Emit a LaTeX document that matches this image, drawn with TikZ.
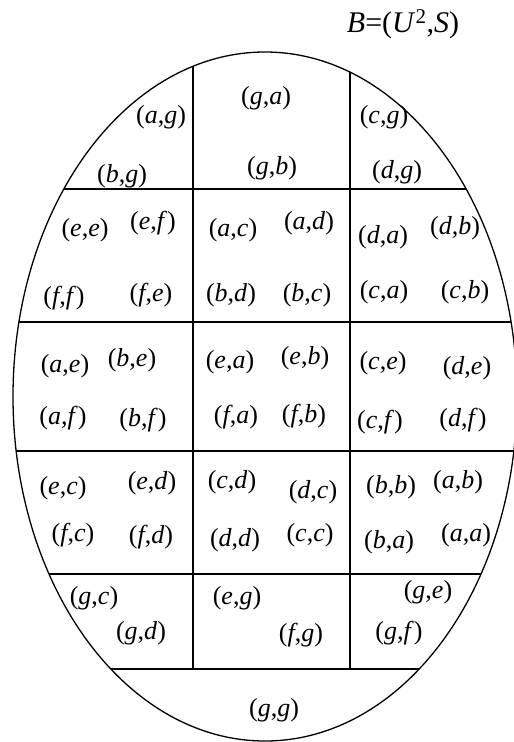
\documentclass[tikz,border=0pt]{standalone}
\usepackage{fontspec}
\setmainfont{Liberation Serif}

\newcommand{\pair}[2]{(\textit{#1},\textit{#2})}

\begin{document}
\begin{tikzpicture}[
    x=1pt, y=-1pt,
    font=\fontsize{26}{30}\selectfont,
    pair/.style={inner sep=0pt},
    rim/.style={line width=1.3pt},
    wall/.style={line width=1.6pt}
  ]
    \useasboundingbox (0,0) rectangle (514,742);
    \node[font=\fontsize{30}{34}\selectfont] (title) at (403,24)
      {\textit{B}=(\textit{U}\textsuperscript{2},\textit{S})};

    % outer ellipse, cut at the right edge
    \begin{scope}
      \clip (0,0) rectangle (514,742);
      \draw[rim] (265,396.5) ellipse [x radius=252, y radius=344.5];
    \end{scope}

    % the grid inside
    \begin{scope}
      \clip (265,396.5) ellipse [x radius=252, y radius=344.5];
      \foreach \y in {189,322,451,574,669} {
        \draw[wall] (0,\y) -- (514,\y);
      }
      \foreach \x in {193,350} {
        \draw[wall] (\x,0) -- (\x,669);
      }
    \end{scope}

    \foreach \x/\y/\p/\q in {
        161/117/a/g, 266/98/g/a, 384/117/c/g,
        122/176/b/g, 272/168/g/b, 397/172/d/g,
        85/230/e/e, 153/223/e/f, 233/230/a/c, 309/223/a/d, 383/237/d/a, 455/228/d/b,
        64/298/f/f, 151/295/f/e, 231/295/b/d, 307/295/b/c, 384/292/c/a, 465/292/c/b,
        65/366/a/e, 132/360/b/e, 230/362/e/a, 305/358/e/b, 383/363/c/e, 467/368/d/e,
        63/418/a/f, 143/420/b/f, 236/417/f/a, 304/416/f/b, 380/422/c/f, 463/420/d/f,
        63/488/e/c, 152/483/e/d, 232/482/c/d, 313/492/d/c, 391/487/b/b, 458/482/a/b,
        73/535/f/c, 151/537/f/d, 235/540/d/d, 310/535/c/c, 389/542/b/a, 466/535/a/a,
        94/598/g/c, 141/633/g/d, 237/598/e/g, 301/635/f/g, 428/592/g/e, 399/633/g/f,
        274/710/g/g} {
      \node[pair] (\p\q) at (\x,\y) {\pair{\p}{\q}};
    }
  \end{tikzpicture}
\end{document}
